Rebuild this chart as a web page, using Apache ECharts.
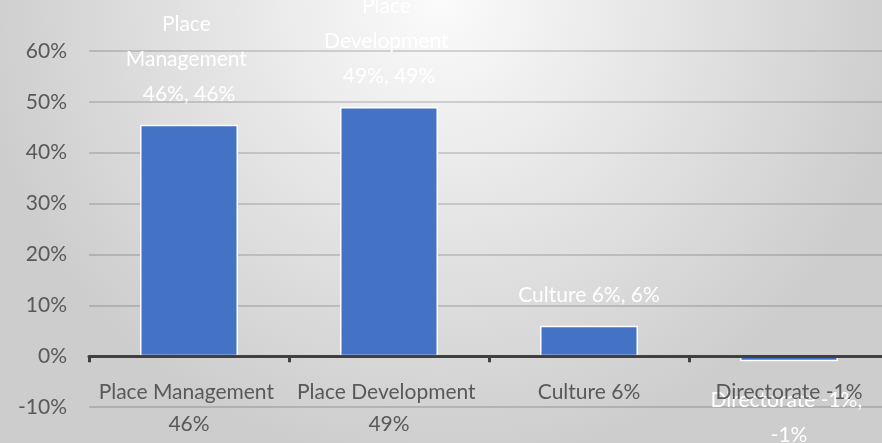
<!DOCTYPE html>
<html>
<head>
<meta charset="utf-8">
<script src="https://cdn.jsdelivr.net/npm/echarts@6/dist/echarts.min.js"></script>
<style>
  html, body { margin: 0; padding: 0; }
  #chart { width: 882px; height: 443px; }
</style>
</head>
<body>
<div id="chart"></div>
<script>
// categories and values (percent)
const categories = ['Place Management 46%', 'Place Development 49%', 'Culture 6%', 'Directorate -1%'];
const values = [45.5, 49, 6, -1];
const yTicks = { min: -10, max: 60, interval: 10 };

const textColor = '#595959';
const font = 'Lato';

const chart = echarts.init(document.getElementById('chart'));

const seriesData = values.map((v, i) => {
    const item = { value: v };
    // negative bar: label sits under it
    if (v < 0) item.label = { position: 'bottom', distance: 22 };
    return item;
});

chart.setOption({
    backgroundColor: {
        type: 'radial', x: 0.5, y: 0, r: 1.05,
        colorStops: [
            { offset: 0, color: '#fbfbfb' },
            { offset: 1, color: '#cdcdcd' }
        ]
    },
    animation: false,
    grid: { left: 89, right: -7, top: 51, bottom: 36, outerBoundsMode: 'none' },
    xAxis: {
        type: 'category',
        data: categories,
        zlevel: 1, // category text sits over the data labels
        axisLine: { onZero: true, lineStyle: { color: '#404040', width: 3 } },
        axisTick: { show: true, length: 6, lineStyle: { color: '#404040', width: 3 } },
        axisLabel: {
            // labels are laid out from the grid bottom here, so pull them up
            color: textColor, fontFamily: font, fontSize: 21, lineHeight: 32,
            margin: -31, width: 195, overflow: 'break', interval: 0
        }
    },
    yAxis: {
        type: 'value',
        min: yTicks.min, max: yTicks.max, interval: yTicks.interval,
        axisLine: { show: false },
        axisTick: { show: false },
        axisLabel: {
            color: textColor, fontFamily: font, fontSize: 21, margin: 22,
            formatter: '{value}%'
        },
        splitLine: { lineStyle: { color: 'rgba(0,0,0,0.14)', width: 2 } }
    },
    series: [{
        type: 'bar',
        data: seriesData,
        barWidth: '49%',
        itemStyle: { color: '#4472C4', borderColor: '#ffffff', borderWidth: 1.5 },
        label: {
            show: true,
            position: 'top',
            distance: 13,
            color: '#ffffff',
            fontFamily: font,
            fontSize: 21,
            lineHeight: 35,
            width: 160,
            overflow: 'break',
            formatter: p => p.name + ', ' + Math.round(p.value) + '%'
        }
    }]
});
</script>
</body>
</html>
